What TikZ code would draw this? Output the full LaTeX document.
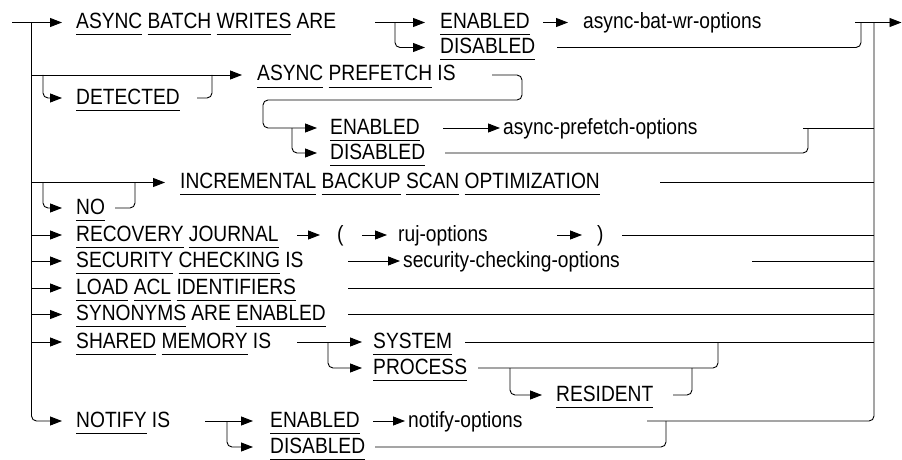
\documentclass[tikz,border=0pt]{standalone}
\usepackage{fontspec}
\usepackage{graphicx}
\setmainfont{Liberation Sans}
\usetikzlibrary{arrows.meta}
\newcommand\kw[1]{\setbox0\hbox{#1}\rlap{\rule[-5.8pt]{\wd0}{0.85pt}}\box0\relax}
\newcommand\sx[1]{\scalebox{1}[1.15]{#1}}
\tikzset{
  txt/.style={anchor=base west, inner sep=0pt, font=\fontsize{19.2}{22}\selectfont},
  ln/.style={line width=0.9pt, rounded corners=5pt},
  arr/.style={ln, -{Triangle[length=12pt,width=9pt]}}
}
\begin{document}
\begin{tikzpicture}[x=1pt,y=-1pt]
\useasboundingbox (0,0) rectangle (902,460);
% ---- left trunk
\draw[arr] (12,22.5) -- (62,22.5);
\draw[arr] (31.5,22.5) -- (31.5,421) -- (62,421);
% row 1
\node[txt] (t1) at (76,28.5) {\sx{\kw{ASYNC} \kw{BATCH} \kw{WRITES} ARE}};
\draw[arr] (375,22.5) -- (425,22.5);
\draw[arr] (395,22.5) -- (395,47.5) -- (425,47.5);
\node[txt] (en1) at (440,28.5) {\sx{\kw{ENABLED}}};
\node[txt] (dis1) at (440,53.5) {\sx{\kw{DISABLED}}};
\draw[arr] (543,22.5) -- (568,22.5);
\node[txt] (abw) at (583,28.5) {\sx{async-bat-wr-options}};
\draw[arr] (855,22.5) -- (901.5,22.5);
\draw[ln] (557,47.5) -- (861,47.5) -- (861,22.5);
% right trunk
\draw[ln] (647,421) -- (874,421) -- (874,22.5);
% row 3 async prefetch
\draw[arr] (31.5,75) -- (242,75);
\draw[arr] (43,75) -- (43,98) -- (62,98);
\node[txt] (det) at (76,104) {\sx{\kw{DETECTED}}};
\draw[ln] (197,98) -- (212,98) -- (212,75);
\node[txt] (ap) at (257,81) {\sx{\kw{ASYNC} \kw{PREFETCH} IS}};
\draw[arr] (492,75) -- (522,75) -- (522,100) -- (263,100) -- (263,128) -- (317,128);
\draw[arr] (292,128) -- (292,153) -- (317,153);
\node[txt] (en2) at (330,134) {\sx{\kw{ENABLED}}};
\node[txt] (dis2) at (330,159) {\sx{\kw{DISABLED}}};
\draw[arr] (443,128) -- (500,128);
\node[txt] (apo) at (503,134) {\sx{async-prefetch-options}};
\draw[ln] (803,128) -- (874,128);
\draw[ln] (445,153) -- (808,153) -- (808,128);
% incremental
\draw[arr] (31.5,182.5) -- (165,182.5);
\draw[arr] (43,182.5) -- (43,208) -- (62,208);
\node[txt] (no) at (76,214) {\sx{\kw{NO}}};
\draw[ln] (115,208) -- (135,208) -- (135,182.5);
\node[txt] (inc) at (180,188.5) {\sx{\kw{INCREMENTAL} \kw{BACKUP} \kw{SCAN} \kw{OPTIMIZATION}}};
\draw[ln] (660,182.5) -- (874,182.5);
% recovery journal
\draw[arr] (31.5,235) -- (62,235);
\node[txt] (rj) at (76,241) {\sx{\kw{RECOVERY} \kw{JOURNAL}}};
\draw[arr] (297,235) -- (320,235);
\node[txt] (lp) at (337,241) {\sx{(}};
\draw[arr] (362,235) -- (387,235);
\node[txt] (ruj) at (398,241) {\sx{ruj-options}};
\draw[arr] (557,235) -- (582,235);
\node[txt] (rp) at (597,241) {\sx{)}};
\draw[ln] (622,235) -- (874,235);
% security
\draw[arr] (31.5,261) -- (62,261);
\node[txt] (sec) at (76,267) {\sx{\kw{SECURITY} \kw{CHECKING} IS}};
\draw[arr] (348,261) -- (400,261);
\node[txt] (sco) at (403,267) {\sx{security-checking-options}};
\draw[ln] (752,261) -- (874,261);
% load acl
\draw[arr] (31.5,288) -- (62,288);
\node[txt] (acl) at (76,294) {\sx{\kw{LOAD} \kw{ACL} \kw{IDENTIFIERS}}};
\draw[ln] (348,288) -- (874,288);
% synonyms
\draw[arr] (31.5,314.5) -- (62,314.5);
\node[txt] (syn) at (76,320.5) {\sx{\kw{SYNONYMS} ARE \kw{ENABLED}}};
\draw[ln] (348,314.5) -- (874,314.5);
% shared memory
\draw[arr] (31.5,342) -- (62,342);
\node[txt] (sh) at (76,348) {\sx{\kw{SHARED} \kw{MEMORY} IS}};
\draw[arr] (297,342) -- (362,342);
\draw[arr] (328,342) -- (328,368) -- (362,368);
\node[txt] (sys) at (373,348) {\sx{\kw{SYSTEM}}};
\node[txt] (proc) at (373,374) {\sx{\kw{PROCESS}}};
\draw[ln] (465,342) -- (874,342);
\draw[ln] (478,368) -- (718,368) -- (718,342);
\draw[arr] (510,368) -- (510,395) -- (542,395);
\node[txt] (res) at (556,401) {\sx{\kw{RESIDENT}}};
\draw[ln] (673,395) -- (692,395) -- (692,368);
% notify
\node[txt] (nt) at (76,427) {\sx{\kw{NOTIFY} IS}};
\draw[arr] (205,421) -- (253,421);
\draw[arr] (227,421) -- (227,447) -- (253,447);
\node[txt] (en3) at (270,427) {\sx{\kw{ENABLED}}};
\node[txt] (dis3) at (270,453) {\sx{\kw{DISABLED}}};
\draw[arr] (373,421) -- (405,421);
\node[txt] (nop) at (408,427) {\sx{notify-options}};
\draw[ln] (375,447) -- (666,447) -- (666,421);
\end{tikzpicture}
\end{document}
